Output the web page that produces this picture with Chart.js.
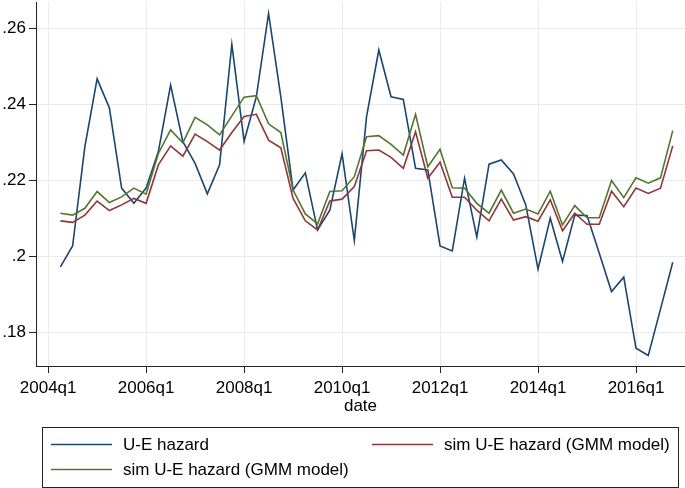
<!DOCTYPE html>
<html>
<head>
<meta charset="utf-8">
<script src="https://cdn.jsdelivr.net/npm/chart.js@4.4.1/dist/chart.umd.min.js"></script>
<style>
  html, body { margin: 0; padding: 0; background: #ffffff; }
  #wrap { position: relative; width: 685px; height: 488px; }
</style>
</head>
<body>
<div id="wrap"><canvas id="c" width="685" height="488"></canvas></div>
<script>
// ---------- DATA ----------
const quarters = [
  '2004q2','2004q3','2004q4',
  '2005q1','2005q2','2005q3','2005q4',
  '2006q1','2006q2','2006q3','2006q4',
  '2007q1','2007q2','2007q3','2007q4',
  '2008q1','2008q2','2008q3','2008q4',
  '2009q1','2009q2','2009q3','2009q4',
  '2010q1','2010q2','2010q3','2010q4',
  '2011q1','2011q2','2011q3','2011q4',
  '2012q1','2012q2','2012q3','2012q4',
  '2013q1','2013q2','2013q3','2013q4',
  '2014q1','2014q2','2014q3','2014q4',
  '2015q1','2015q2','2015q3','2015q4',
  '2016q1','2016q2','2016q3','2016q4'
];
const ueHazard = [
  0.1973, 0.2028, 0.2289,
  0.2467, 0.2391, 0.2180, 0.2140,
  0.2180, 0.2276, 0.2451, 0.2302,
  0.2245, 0.2165, 0.2241, 0.2558,
  0.2303, 0.2420, 0.2639, 0.2420,
  0.2175, 0.2220, 0.2070, 0.2122,
  0.2270, 0.2042, 0.2368, 0.2543,
  0.2420, 0.2413, 0.2232, 0.2228,
  0.2028, 0.2015, 0.2206, 0.2052,
  0.2243, 0.2254, 0.2217, 0.2136,
  0.1967, 0.2101, 0.1987, 0.2109,
  0.2108, 0.2009, 0.1908, 0.1946,
  0.1759, 0.1740, 0.1862, 0.1985
];
const simRed = [
  0.2094, 0.2090, 0.2109,
  0.2146, 0.2121, 0.2136, 0.2153,
  0.2140, 0.2241, 0.2291, 0.2264,
  0.2322, 0.2302, 0.2280, 0.2326,
  0.2368, 0.2374, 0.2306, 0.2286,
  0.2153, 0.2094, 0.2070, 0.2146,
  0.2151, 0.2184, 0.2278, 0.2280,
  0.2261, 0.2232, 0.2328, 0.2206,
  0.2248, 0.2156, 0.2156, 0.2122,
  0.2094, 0.2151, 0.2096, 0.2105,
  0.2093, 0.2149, 0.2068, 0.2114,
  0.2085, 0.2085, 0.2172, 0.2131,
  0.2180, 0.2166, 0.2180, 0.2291
];
const simGreen = [
  0.2114, 0.2109, 0.2127,
  0.2171, 0.2142, 0.2157, 0.2180,
  0.2164, 0.2271, 0.2333, 0.2299,
  0.2366, 0.2346, 0.2320, 0.2370,
  0.2419, 0.2423, 0.2349, 0.2326,
  0.2175, 0.2112, 0.2086, 0.2171,
  0.2173, 0.2210, 0.2315, 0.2318,
  0.2295, 0.2267, 0.2374, 0.2236,
  0.2282, 0.2181, 0.2180, 0.2140,
  0.2114, 0.2175, 0.2114, 0.2125,
  0.2112, 0.2172, 0.2083, 0.2134,
  0.2102, 0.2102, 0.2200, 0.2155,
  0.2207, 0.2193, 0.2207, 0.2331
];
const seriesLabels = ['U-E hazard', 'sim U-E hazard (GMM model)', 'sim U-E hazard (GMM model)'];
const xTickLabels = ['2004q1','2006q1','2008q1','2010q1','2012q1','2014q1','2016q1'];
const yTickValues = [0.18, 0.20, 0.22, 0.24, 0.26];
const yTickLabels = ['.18', '.2', '.22', '.24', '.26'];
const xTitle = 'date';

// ---------- helpers ----------
function qIndex(s) { // quarters since 2004q1
  const y = parseInt(s.slice(0, 4), 10), q = parseInt(s.slice(5), 10);
  return (y - 2004) * 4 + (q - 1);
}
const xTickValues = xTickLabels.map(qIndex);
function pts(vals) { return vals.map((v, i) => ({ x: qIndex(quarters[i]), y: v })); }

const NAVY = '#1a476f', MAROON = '#90353b', GREEN = '#55752f';
const FONT = '"Liberation Sans", Arial, Helvetica, sans-serif';

const legendPlugin = {
  id: 'stataLegend',
  afterDraw(chart) {
    const ctx = chart.ctx;
    const ds = chart.data.datasets;
    ctx.save();
    ctx.strokeStyle = '#222';
    ctx.lineWidth = 1;
    ctx.strokeRect(42.5, 427.5, 636, 60);
    const items = [
      { d: ds[0], x: 51, y: 444.5 },
      { d: ds[1], x: 372, y: 444.5 },
      { d: ds[2], x: 51, y: 469.5 }
    ];
    ctx.font = '17px ' + FONT;
    ctx.textBaseline = 'middle';
    ctx.textAlign = 'left';
    items.forEach(it => {
      ctx.strokeStyle = it.d.borderColor;
      ctx.lineWidth = 1.6;
      ctx.beginPath();
      ctx.moveTo(it.x, it.y);
      ctx.lineTo(it.x + 61, it.y);
      ctx.stroke();
      ctx.fillStyle = '#000';
      ctx.fillText(it.d.label, it.x + 72, it.y + 1);
    });
    ctx.restore();
  }
};

new Chart(document.getElementById('c'), {
  type: 'line',
  data: {
    datasets: [
      { label: seriesLabels[0], data: pts(ueHazard), borderColor: NAVY, order: 2 },
      { label: seriesLabels[1], data: pts(simRed), borderColor: MAROON, order: 1 },
      { label: seriesLabels[2], data: pts(simGreen), borderColor: GREEN, order: 0 }
    ]
  },
  options: {
    responsive: false,
    animation: false,
    devicePixelRatio: 1,
    layout: { padding: { top: 2, right: 0, left: 0, bottom: 0 } },
    elements: {
      line: { borderWidth: 1.6, tension: 0, fill: false },
      point: { radius: 0, hoverRadius: 0 }
    },
    plugins: {
      legend: { display: false },
      tooltip: { enabled: false }
    },
    scales: {
      x: {
        type: 'linear',
        min: -0.99,
        max: 52,
        afterFit(s) { s.height = 122; s.paddingLeft = 0; s.paddingRight = 0; },
        afterBuildTicks(s) { s.ticks = xTickValues.map(v => ({ value: v })); },
        ticks: {
          autoSkip: false,
          maxRotation: 0,
          padding: 5,
          color: '#000',
          font: { family: FONT, size: 17 },
          callback: (v) => { const k = xTickValues.indexOf(v); return k >= 0 ? xTickLabels[k] : ''; }
        },
        grid: { color: '#eaeaea', lineWidth: 1, tickColor: '#222', tickLength: 7 },
        border: { color: '#222', width: 1 },
        title: {
          display: true, text: xTitle, color: '#000',
          font: { family: FONT, size: 17 },
          padding: { top: 0, bottom: 71 }
        }
      },
      y: {
        type: 'linear',
        min: 0.17125,
        max: 0.26691,
        afterFit(s) { s.width = 36; s.paddingTop = 0; s.paddingBottom = 0; },
        afterBuildTicks(s) { s.ticks = yTickValues.map(v => ({ value: v })); },
        ticks: {
          padding: 3,
          color: '#000',
          font: { family: FONT, size: 17 },
          callback: (v) => { const k = yTickValues.findIndex(t => Math.abs(t - v) < 1e-9); return k >= 0 ? yTickLabels[k] : ''; }
        },
        grid: { color: '#eaeaea', lineWidth: 1, tickColor: '#222', tickLength: 7 },
        border: { color: '#222', width: 1 }
      }
    }
  },
  plugins: [legendPlugin]
});
</script>
</body>
</html>
